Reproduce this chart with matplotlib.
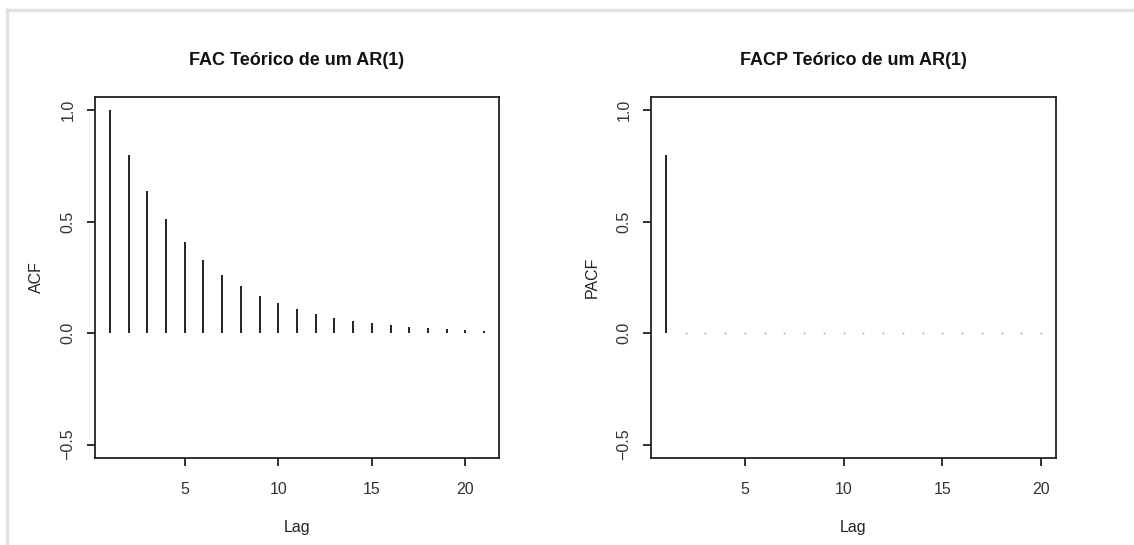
import matplotlib.pyplot as plt
from matplotlib.lines import Line2D

plt.rcParams['font.family'] = ['Liberation Sans', 'DejaVu Sans']

# valores
acf_lags = list(range(1, 22))
acf_vals = [1.0, 0.8, 0.64, 0.512, 0.41, 0.328, 0.262, 0.21, 0.168, 0.134,
            0.107, 0.086, 0.069, 0.055, 0.044, 0.035, 0.028, 0.023, 0.018,
            0.014, 0.012]
pacf_lags = list(range(1, 21))
pacf_vals = [0.8] + [0.0] * 19

fig = plt.figure(figsize=(11.34, 5.45), dpi=100)
W, H = 1134, 545

def make_ax(x0, x1, y0, y1):
    return fig.add_axes([x0 / W, 1 - y1 / H, (x1 - x0) / W, (y1 - y0) / H])

ax1 = make_ax(95, 499, 97, 458)
ax2 = make_ax(651, 1056, 97, 458)

dark = '#222222'

def style(ax, lags, title, ylabel):
    n0, n1 = min(lags), max(lags)
    ext = (n1 - n0) * 0.04
    ax.set_xlim(n0 - ext, n1 + ext)
    ax.set_ylim(-0.56, 1.06)
    ax.set_yticks([-0.5, 0.0, 0.5, 1.0])
    ax.set_yticklabels(['\u22120.5', '0.0', '0.5', '1.0'], rotation=90, va='center')
    ax.set_xticks([5, 10, 15, 20])
    for s in ax.spines.values():
        s.set_linewidth(1.3)
        s.set_color(dark)
    ax.tick_params(direction='out', length=6, width=1.3, color=dark,
                   labelsize=11.5, labelcolor='#333333')
    ax.tick_params(axis='x', pad=11)
    ax.tick_params(axis='y', pad=8)
    ax.set_title(title, fontsize=13, fontweight='bold', pad=23, color='#111111')
    ax.set_ylabel(ylabel, fontsize=11.5, labelpad=12, color='#222222')
    ax.set_xlabel('Lag', fontsize=11.5, labelpad=17, color='#222222')

ax1.vlines(acf_lags, 0, acf_vals, color='#111111', linewidth=1.3)
style(ax1, acf_lags, 'FAC Teórico de um AR(1)', 'ACF')

ax2.vlines(pacf_lags, 0, pacf_vals, color='#111111', linewidth=1.3)
ax2.plot(pacf_lags[1:], pacf_vals[1:], linestyle='none', marker='o',
         markersize=1.3, color='#aaaaaa', markeredgewidth=0)
style(ax2, pacf_lags, 'FACP Teórico de um AR(1)', 'PACF')

# moldura clara da captura de tela
fig.add_artist(Line2D([7 / W, 1], [1 - 10 / H, 1 - 10 / H], color='#e2e2e2', linewidth=2.5))
fig.add_artist(Line2D([7 / W, 7 / W], [0, 1 - 10 / H], color='#e2e2e2', linewidth=2.5))

fig.savefig('out.png', dpi=100)
